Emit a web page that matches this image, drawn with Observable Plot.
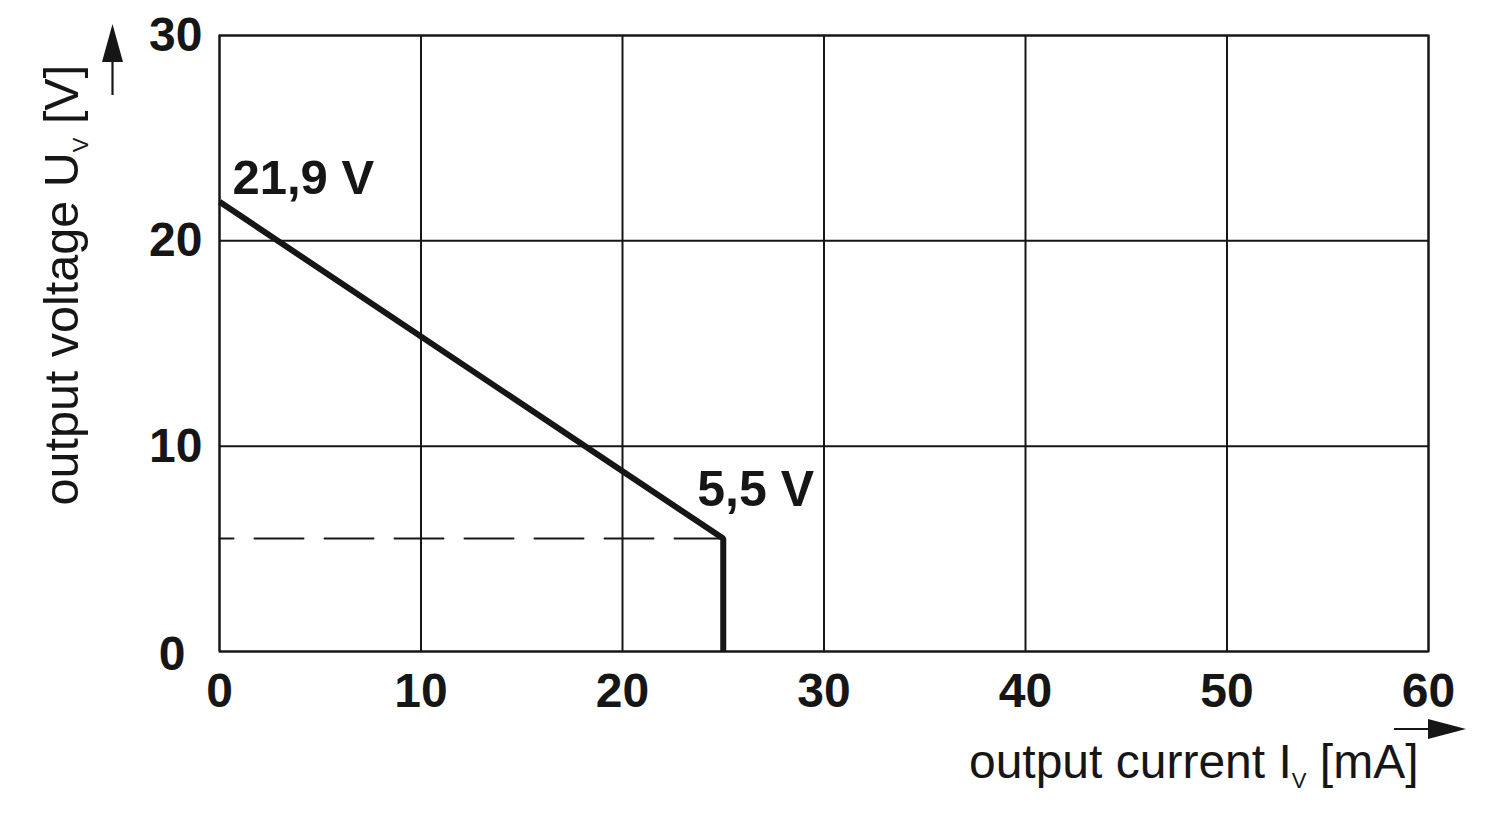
<!DOCTYPE html>
<html><head><meta charset="utf-8">
<script src="https://cdn.jsdelivr.net/npm/d3@7"></script>
<script src="https://cdn.jsdelivr.net/npm/@observablehq/plot@0.6"></script>
<style>body{margin:0;background:#fff} #chart svg{display:block}</style>
</head><body><div id="chart"></div>
<script>
// ---- data ----
const currentTicks = [0, 10, 20, 30, 40, 50, 60];
const voltageTicks = [0, 10, 20, 30];
const curveCurrent = [0, 25, 25];          // mA
const curveVoltage = [21.9, 5.5, 0];       // V
const limitCurrent = [0, 25];
const limitVoltage = [5.5, 5.5];
const annotationLabels = ["21,9 V", "5,5 V"];
const annotationCurrent = [0, 25];
const annotationVoltage = [21.9, 5.5];
const xLabel = "output current I_V [mA]";
const yLabel = "output voltage U_V [V]";

const curve = curveCurrent.map((c, i) => ({c, v: curveVoltage[i]}));
const limit = limitCurrent.map((c, i) => ({c, v: limitVoltage[i]}));
const ann = annotationLabels.map((t, i) => ({t, c: annotationCurrent[i], v: annotationVoltage[i]}));

const W = 1500, H = 820, ML = 219, MR = 72, MT = 35, MB = 169;
const ink = "#161616";
const font = "'Liberation Sans', Arial, Helvetica, sans-serif";

const plot = Plot.plot({
  width: W, height: H,
  marginLeft: ML, marginRight: MR, marginTop: MT, marginBottom: MB,
  style: {fontFamily: font, color: ink, background: "#fff", overflow: "visible"},
  x: {domain: [0, 60], label: null},
  y: {domain: [0, 30], label: null},
  marks: [
    Plot.gridX(currentTicks, {stroke: ink, strokeOpacity: 1, strokeWidth: 2}),
    Plot.gridY(voltageTicks, {stroke: ink, strokeOpacity: 1, strokeWidth: 2}),
    Plot.frame({stroke: ink, strokeWidth: 2}),
    Plot.axisX(currentTicks, {tickSize: 0, tickPadding: 21, fontSize: 48, fontWeight: "bold", label: null}),
    Plot.axisY(voltageTicks.filter(d => d !== 0), {tickSize: 0, tickPadding: 17, fontSize: 48, fontWeight: "bold", label: null}),
    Plot.axisY(voltageTicks.filter(d => d === 0), {tickSize: 0, tickPadding: 34, dy: 3, fontSize: 48, fontWeight: "bold", label: null}),
    Plot.line(limit, {x: "c", y: "v", stroke: ink, strokeWidth: 2, strokeDasharray: "49,21", strokeDashoffset: 35}),
    Plot.line(curve, {x: "c", y: "v", stroke: ink, strokeWidth: 6, strokeLinejoin: "miter", strokeLinecap: "butt"}),
    Plot.text([ann[0]], {x: "c", y: "v", text: "t", textAnchor: "start", lineAnchor: "bottom", dx: 13, dy: -8, fontSize: 49, fontWeight: "bold", fill: ink}),
    Plot.text([ann[1]], {x: "c", y: "v", text: "t", textAnchor: "start", lineAnchor: "bottom", dx: -26, dy: -33, fontSize: 50, fontWeight: "bold", fill: ink}),
    Plot.text([xLabel], {frameAnchor: "bottom-right", textAnchor: "end", lineAnchor: "bottom", dx: -10, dy: 126, fontSize: 48, fill: ink}),
    Plot.text([yLabel], {frameAnchor: "bottom-left", rotate: -90, textAnchor: "start", lineAnchor: "bottom", dx: -142, dy: -146, fontSize: 48.5, fill: ink})
  ]
});

// subscripts
d3.select(plot).selectAll("text").each(function() {
  const el = this;
  const s = el.textContent;
  if (s.includes("_V")) {
    const [a, b] = s.split("_V");
    el.textContent = "";
    const sel = d3.select(el);
    sel.append("tspan").text(a);
    sel.append("tspan").attr("dy", 10).attr("font-size", 22).text("V");
    sel.append("tspan").attr("dy", -10).text(b);
  }
});

// axis direction arrows
const svg = d3.select(plot);
const g = svg.append("g").attr("fill", ink).attr("stroke", ink);
const ax = ML - 106.5;
g.append("line").attr("x1", ax).attr("x2", ax).attr("y1", MT + 60).attr("y2", MT + 25).attr("stroke-width", 2.2);
g.append("path").attr("stroke", "none").attr("d", `M${ax - 10.5},${MT + 27}L${ax + 10.5},${MT + 27}L${ax},${MT - 11}Z`);
const ay = H - MB + 78;
const xr = W - MR;
g.append("line").attr("x1", xr - 34).attr("x2", xr + 2).attr("y1", ay).attr("y2", ay).attr("stroke-width", 2.2);
g.append("path").attr("stroke", "none").attr("d", `M${xr},${ay - 10}L${xr},${ay + 10}L${xr + 38},${ay}Z`);

document.getElementById("chart").appendChild(plot);
</script>
</body></html>
